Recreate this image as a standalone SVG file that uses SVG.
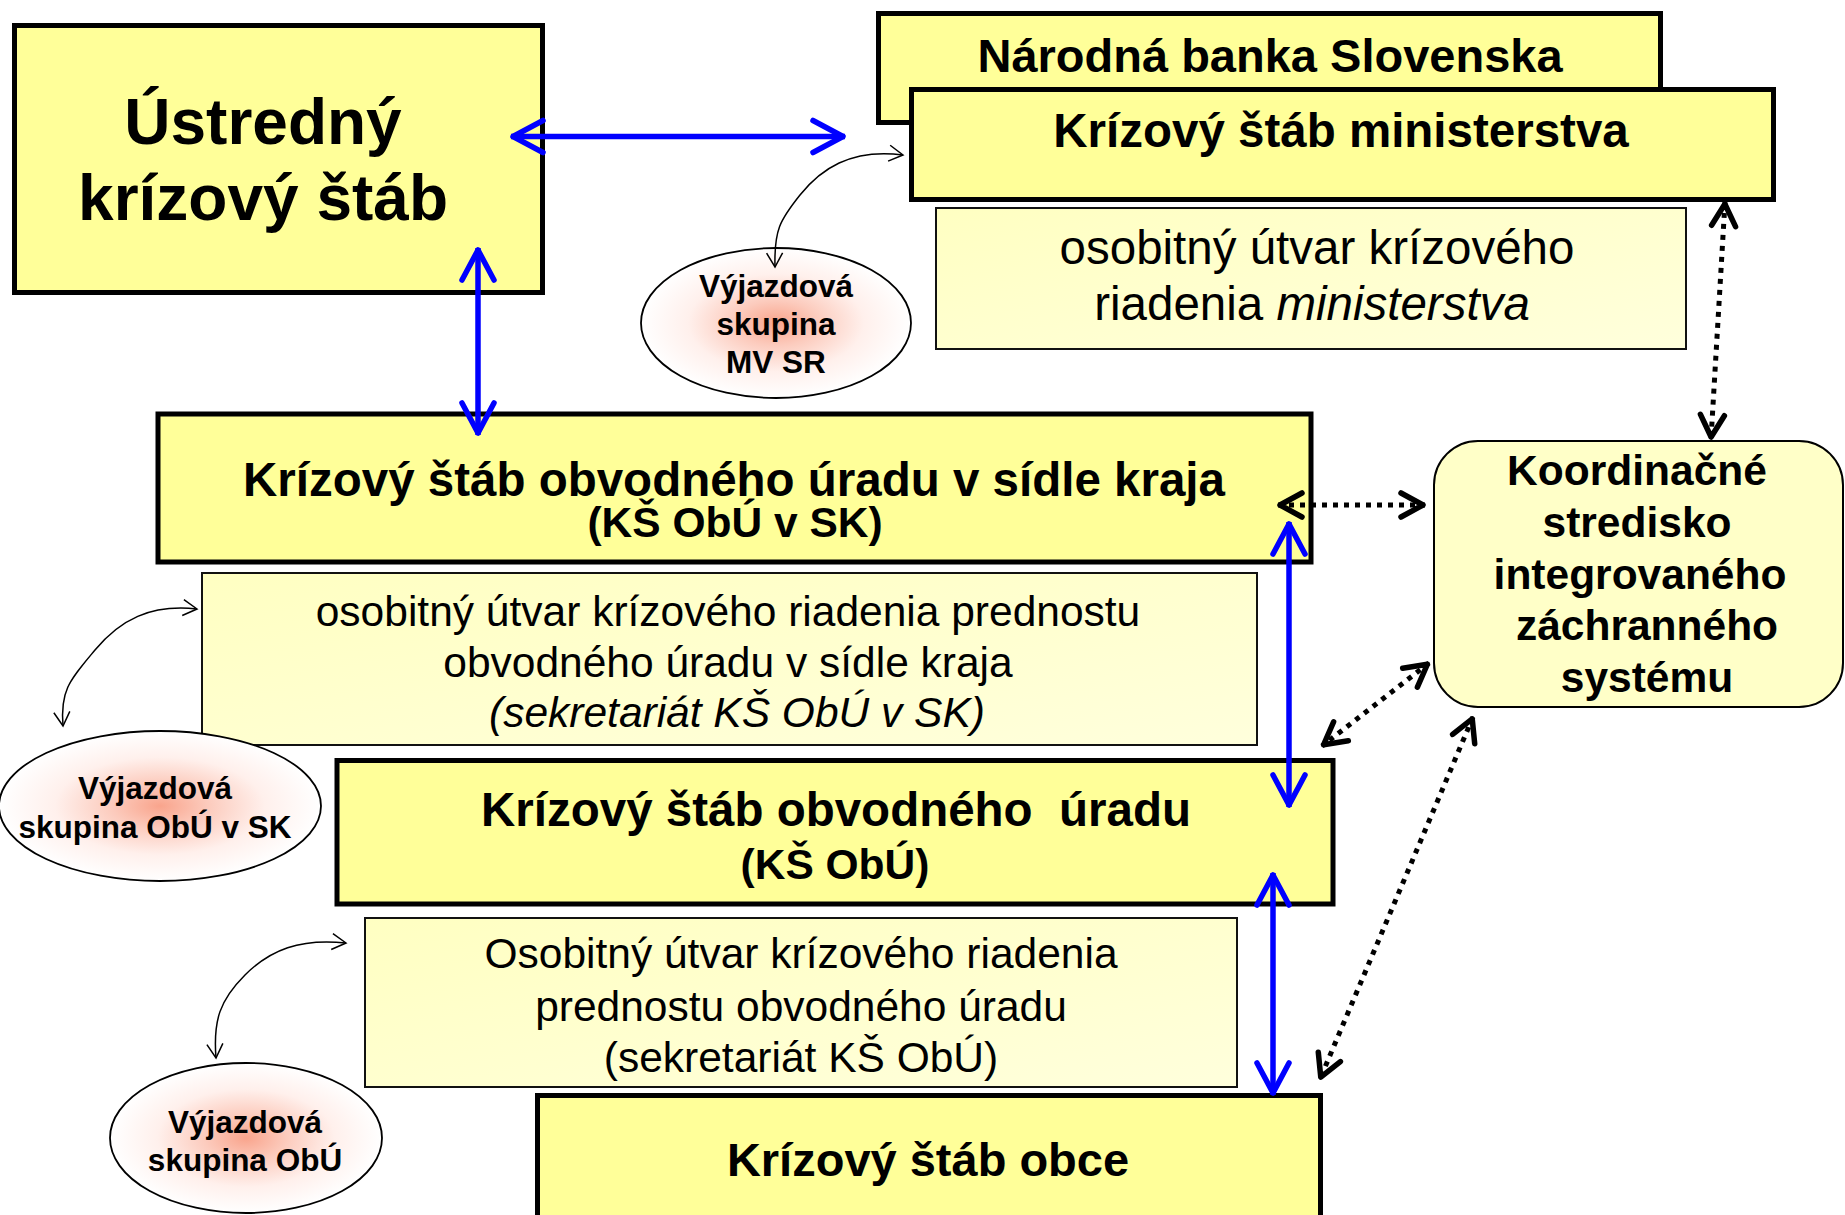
<svg xmlns="http://www.w3.org/2000/svg" width="1845" height="1215" viewBox="0 0 1845 1215">
<style>
text{font-family:"Liberation Sans",Arial,sans-serif;fill:#000;text-anchor:middle}
.b{font-weight:bold}
.main{fill:#FFFF99;stroke:#000;stroke-width:5}
.sub{fill:url(#subG);stroke:#111;stroke-width:2}
.ell{fill:url(#ellG);stroke:#000;stroke-width:1.8}
.blue{stroke:#0000FF;stroke-width:5.5;fill:none;marker-start:url(#bh);marker-end:url(#bh)}
.dot{stroke:#000;stroke-width:5;fill:none;stroke-dasharray:5 6;marker-start:url(#kh);marker-end:url(#kh)}
.thin{stroke:#000;stroke-width:1.5;fill:none;marker-start:url(#th);marker-end:url(#th)}
</style>
<defs>
<linearGradient id="subG" x1="0" y1="0" x2="1" y2="1">
<stop offset="0" stop-color="#FFFFC2"/><stop offset="1" stop-color="#FFFFDC"/>
</linearGradient>
<radialGradient id="ellG" cx="0.5" cy="0.5" r="0.5">
<stop offset="0" stop-color="#F9A48C"/><stop offset="0.3" stop-color="#FCCBBD"/><stop offset="0.65" stop-color="#FFF0EC"/><stop offset="1" stop-color="#FFFFFF"/>
</radialGradient>
<marker id="bh" markerUnits="userSpaceOnUse" orient="auto-start-reverse" overflow="visible" markerWidth="10" markerHeight="10">
<path d="M-32,-16 L-2,0 L-32,16" fill="none" stroke="#0000FF" stroke-width="5.5" stroke-linecap="round" stroke-linejoin="round"/>
</marker>
<marker id="kh" markerUnits="userSpaceOnUse" orient="auto-start-reverse" overflow="visible" markerWidth="10" markerHeight="10">
<path d="M-24,-12 L-2,0 L-24,12" fill="none" stroke="#000" stroke-width="5.5" stroke-linecap="round" stroke-linejoin="round" stroke-dasharray="none"/>
</marker>
<marker id="th" markerUnits="userSpaceOnUse" orient="auto-start-reverse" overflow="visible" markerWidth="10" markerHeight="10">
<path d="M-14,-8 L0,0 L-14,8" fill="none" stroke="#000" stroke-width="1.5"/>
</marker>
</defs>

<g id="ustredny">
<rect class="main" x="14.5" y="25.5" width="528" height="267"/>
<text class="b" x="263" y="144" font-size="64">Ústredný</text>
<text class="b" x="263" y="220" font-size="64">krízový štáb</text>
</g>

<g id="nbs">
<rect class="main" x="878.5" y="13.5" width="782" height="109"/>
<text class="b" x="1270" y="72" font-size="47">Národná banka Slovenska</text>
</g>

<g id="ks-ministerstva">
<rect class="main" x="911.5" y="89.5" width="862" height="110"/>
<text class="b" x="1341" y="147" font-size="47.5">Krízový štáb ministerstva</text>
</g>

<g id="osobitny-ministerstva">
<rect class="sub" x="936" y="208" width="750" height="141"/>
<text x="1317" y="264" font-size="47.5">osobitný útvar krízového</text>
<text x="1312" y="320" font-size="47.5">riadenia <tspan font-style="italic">ministerstva</tspan></text>
</g>

<g id="vyjazdova-mvsr">
<ellipse class="ell" cx="776" cy="323" rx="135" ry="75"/>
<text class="b" x="776" y="297" font-size="31.5">Výjazdová</text>
<text class="b" x="776" y="335" font-size="31.5">skupina</text>
<text class="b" x="776" y="373" font-size="31.5">MV SR</text>
</g>

<g id="ks-obu-sk">
<rect class="main" x="158" y="414" width="1153" height="148"/>
<text class="b" x="734" y="496" font-size="47.5">Krízový štáb obvodného úradu v sídle kraja</text>
<text class="b" x="735" y="537" font-size="42.5">(KŠ ObÚ v SK)</text>
</g>

<g id="osobitny-sk">
<rect class="sub" x="202" y="573" width="1055" height="172"/>
<text x="728" y="626" font-size="42.5">osobitný útvar krízového riadenia prednostu</text>
<text x="728" y="677" font-size="42.5">obvodného úradu v sídle kraja</text>
<text x="737" y="727" font-size="42.5" font-style="italic">(sekretariát KŠ ObÚ v SK)</text>
</g>

<g id="vyjazdova-sk">
<ellipse class="ell" cx="160" cy="806" rx="161" ry="75"/>
<text class="b" x="155" y="799" font-size="31.5">Výjazdová</text>
<text class="b" x="155" y="838" font-size="31.5">skupina ObÚ v SK</text>
</g>

<g id="ks-obu">
<rect class="main" x="337" y="760.5" width="996" height="143.5"/>
<text class="b" x="836" y="826" font-size="47.5" style="white-space:pre">Krízový štáb obvodného  úradu</text>
<text class="b" x="835" y="879" font-size="42.5">(KŠ ObÚ)</text>
</g>

<g id="osobitny-obu">
<rect class="sub" x="365" y="918" width="872" height="169"/>
<text x="801" y="968" font-size="42.5">Osobitný útvar krízového riadenia</text>
<text x="801" y="1021" font-size="42.5">prednostu obvodného úradu</text>
<text x="801" y="1072" font-size="42.5">(sekretariát KŠ ObÚ)</text>
</g>

<g id="vyjazdova-obu">
<ellipse class="ell" cx="246" cy="1138" rx="136" ry="75"/>
<text class="b" x="245" y="1133" font-size="31.5">Výjazdová</text>
<text class="b" x="245" y="1171" font-size="31.5">skupina ObÚ</text>
</g>

<g id="ks-obce">
<rect class="main" x="537.5" y="1095.5" width="783" height="150"/>
<text class="b" x="928" y="1176" font-size="47">Krízový štáb obce</text>
</g>

<g id="koordinacne">
<rect x="1434" y="441" width="409" height="266" rx="44" ry="44" fill="#FFFFC8" stroke="#000" stroke-width="2"/>
<text class="b" x="1637" y="485" font-size="42.5">Koordinačné</text>
<text class="b" x="1637" y="537" font-size="42.5">stredisko</text>
<text class="b" x="1640" y="589" font-size="42.5">integrovaného</text>
<text class="b" x="1647" y="640" font-size="42.5">záchranného</text>
<text class="b" x="1647" y="692" font-size="42.5">systému</text>
</g>

<g id="connectors">
<path class="blue" d="M511,136.5 L845,136.5"/>
<path class="blue" d="M478,248 L478,435"/>
<path class="blue" d="M1289,522 L1289,807"/>
<path class="blue" d="M1273,873 L1273,1095"/>
<path class="dot" d="M1725,202 L1711,439"/>
<path class="dot" d="M1278,505 L1425,505"/>
<path class="dot" d="M1429,663 L1322,746"/>
<path class="dot" d="M1473,717 L1320,1079"/>
<path class="thin" d="M903,155 C850,148 820,170 800,195 S774,230 775,267"/>
<path class="thin" d="M197,609 C150,604 120,620 95,650 S60,690 63,726"/>
<path class="thin" d="M346,943 C300,938 270,950 245,975 S213,1020 216,1058"/>
</g>
</svg>
